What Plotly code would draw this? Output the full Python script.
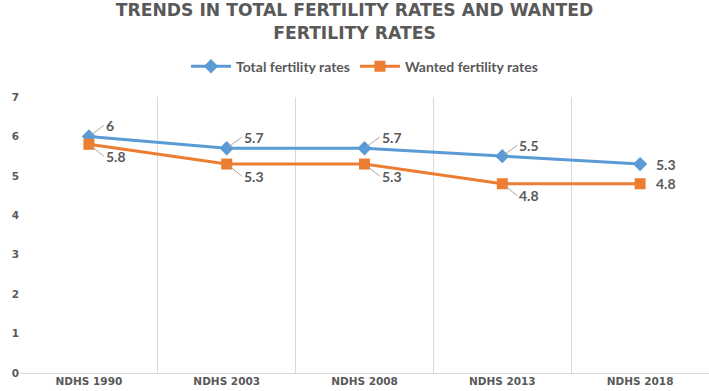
import plotly.graph_objects as go

categories = ["NDHS 1990", "NDHS 2003", "NDHS 2008", "NDHS 2013", "NDHS 2018"]
total_fertility = [6, 5.7, 5.7, 5.5, 5.3]
wanted_fertility = [5.8, 5.3, 5.3, 4.8, 4.8]
y_ticks = [0, 1, 2, 3, 4, 5, 6, 7]

BLUE = "#5B9BD5"
ORANGE = "#ED7D31"
GRAY = "#595959"
LABEL_FONT = dict(family="Lato, Open Sans, sans-serif", size=14, color=GRAY, weight="bold")
AXIS_FONT = dict(family="DejaVu Sans, sans-serif", size=10.5, color=GRAY, weight="bold")

xs = list(range(len(categories)))

fig = go.Figure()
fig.add_trace(go.Scatter(
    x=xs, y=total_fertility, name="Total fertility rates", mode="lines+markers",
    line=dict(color=BLUE, width=3), marker=dict(symbol="diamond", size=11, color=BLUE),
))
fig.add_trace(go.Scatter(
    x=xs, y=wanted_fertility, name="Wanted fertility rates", mode="lines+markers",
    line=dict(color=ORANGE, width=3), marker=dict(symbol="square", size=11, color=ORANGE),
))

annotations = []
n = len(categories)
for i in range(n):
    last = i == n - 1
    for vals, up in ((total_fertility, True), (wanted_fertility, False)):
        v = vals[i]
        txt = f"{v:g}"
        if last:
            annotations.append(dict(x=xs[i], y=v, text=txt, showarrow=False,
                                    xanchor="left", yanchor="middle", xshift=14,
                                    font=LABEL_FONT))
        else:
            annotations.append(dict(x=xs[i], y=v, text=txt, showarrow=True,
                                    arrowhead=0, arrowwidth=1, arrowcolor="#A6A6A6",
                                    ax=15, ay=-11 if up else 12, standoff=3,
                                    xanchor="left", yanchor="middle",
                                    font=LABEL_FONT))

fig.update_layout(
    width=709, height=391,
    margin=dict(l=20, r=0, t=97, b=18, autoexpand=False),
    paper_bgcolor="white", plot_bgcolor="white",
    title=dict(text="TRENDS IN TOTAL FERTILITY RATES AND WANTED<br>FERTILITY RATES",
               x=0.5, xanchor="center", y=0.958, yanchor="top", yref="container",
               font=dict(family="DejaVu Sans, sans-serif", size=17.2, color=GRAY, weight="bold")),
    legend=dict(orientation="h", x=0.5, xanchor="center", y=1.11, yanchor="middle",
                font=dict(family="Lato, sans-serif", size=14, color=GRAY, weight="bold"),
                itemwidth=40),
    showlegend=True,
    annotations=annotations,
    xaxis=dict(
        range=[-0.5, n - 0.5], tickvals=xs, ticktext=categories,
        showgrid=False, zeroline=False, showline=False, ticks="",
        tickfont=AXIS_FONT,
        minor=dict(tick0=-0.5, dtick=1, showgrid=True, gridcolor="#D9D9D9", gridwidth=1),
    ),
    yaxis=dict(
        range=[0, 7], tickvals=y_ticks, showgrid=False, zeroline=True,
        zerolinecolor="#D9D9D9", zerolinewidth=1, showline=False, ticks="",
        tickfont=AXIS_FONT,
    ),
)

fig.write_html("out.html", config={"displayModeBar": False},
               post_script="document.body.style.margin='0';")
